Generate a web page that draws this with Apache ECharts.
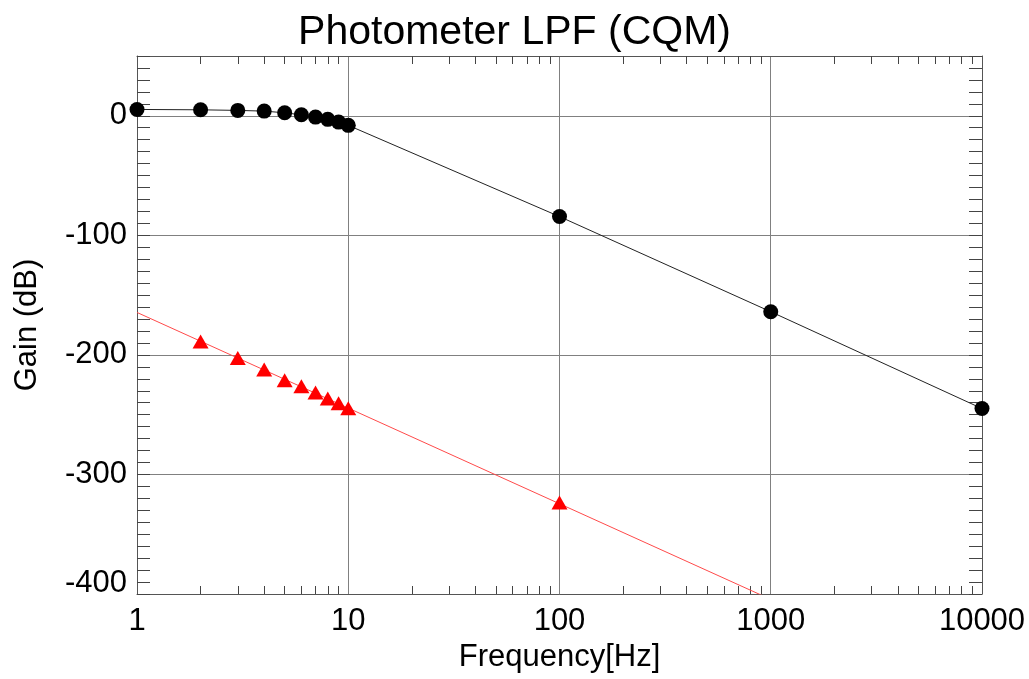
<!DOCTYPE html>
<html>
<head>
<meta charset="utf-8">
<title>Photometer LPF (CQM)</title>
<script src="https://cdn.jsdelivr.net/npm/echarts@6/dist/echarts.min.js"></script>
<style>
  html, body { margin: 0; padding: 0; background: #fff; }
  #chart { width: 1029px; height: 679px; }
</style>
</head>
<body>
<div id="chart"></div>
<script>
// measured gain (black dots)
const freqMeas = [1, 2, 3, 4, 5, 6, 7, 8, 9, 10, 100, 1000, 10000];
const gainMeas = [5.3, 5.0, 4.5, 3.9, 2.5, 0.8, -1.1, -3.0, -5.3, -8.0, -84.3, -163.9, -244.9];

// red triangles
const freqRed = [2, 3, 4, 5, 6, 7, 8, 9, 10, 100];
const gainRed = [-188.7, -202.6, -212.3, -221.3, -226.3, -231.5, -236.4, -240.5, -244.7, -323.4];

// red straight line (fit)
const freqFit = [1, 10, 100, 1000, 10000];
const gainFit = [-164.5, -244.5, -324.5, -404.5, -484.5];

// axis ticks
const xMinorTicks = [2, 3, 4, 5, 6, 7, 8, 9, 20, 30, 40, 50, 60, 70, 80, 90,
    200, 300, 400, 500, 600, 700, 800, 900, 2000, 3000, 4000, 5000, 6000, 7000, 8000, 9000];
const yMin = -400, yMax = 50;

const font = 'Liberation Sans, Arial, Helvetica, sans-serif';

function pairs(xs, ys) {
    return xs.map((x, i) => [x, ys[i]]);
}

window.onload = init;

function init() {
    let chart = echarts.init(document.getElementById('chart'));

    let minorX = {
        type: 'log', logBase: 10, min: 1, max: 10000,
        axisLine: { show: false, onZero: false },
        axisTick: { show: true, inside: true, length: 8, customValues: xMinorTicks,
            lineStyle: { color: '#444', width: 1 } },
        axisLabel: { show: false },
        splitLine: { show: false }
    };
    let minorY = {
        type: 'value', min: yMin, max: yMax, interval: 10,
        axisLine: { show: false, onZero: false },
        axisTick: { show: true, inside: true, length: 13, lineStyle: { color: '#444', width: 1 } },
        axisLabel: { show: false },
        splitLine: { show: false }
    };

    let options = {
        animation: false,
        backgroundColor: '#fff',
        title: {
            text: 'Photometer LPF (CQM)',
            left: 'center',
            top: 7,
            textStyle: { fontFamily: font, fontSize: 41, fontWeight: 'normal', color: '#000' }
        },
        grid: { left: 137, right: 47, top: 56, bottom: 85, containLabel: false, outerBoundsMode: 'none' },
        xAxis: [
            {
                type: 'log', logBase: 10, min: 1, max: 10000, position: 'bottom',
                name: 'Frequency[Hz]', nameLocation: 'middle', nameGap: 43,
                nameTextStyle: { fontFamily: font, fontSize: 31, color: '#000' },
                axisLine: { onZero: false, lineStyle: { color: '#555', width: 1 } },
                axisTick: { show: false },
                axisLabel: { fontFamily: font, fontSize: 31, color: '#000', margin: 12,
                    formatter: v => String(Math.round(v)) },
                splitLine: { show: true, lineStyle: { color: '#808080', width: 1 } }
            },
            Object.assign({}, minorX, { position: 'bottom' }),
            Object.assign({}, minorX, { position: 'top',
                axisLine: { show: true, onZero: false, lineStyle: { color: '#555', width: 1 } } })
        ],
        yAxis: [
            {
                type: 'value', min: yMin, max: yMax, interval: 100, position: 'left',
                name: 'Gain (dB)', nameLocation: 'middle', nameGap: 94,
                nameTextStyle: { fontFamily: font, fontSize: 31, color: '#000' },
                axisLine: { show: true, onZero: false, lineStyle: { color: '#555', width: 1 } },
                axisTick: { show: false },
                axisLabel: {
                    fontFamily: font, fontSize: 31, color: '#000', margin: 10,
                    showMaxLabel: false,
                    formatter: v => v === yMin ? '{low|' + v + '}' : (v > 0 ? '' : String(v)),
                    rich: { low: { fontFamily: font, fontSize: 31, color: '#000', padding: [0, 0, 22, 0] } }
                },
                splitLine: { show: true, lineStyle: { color: '#808080', width: 1 } }
            },
            Object.assign({}, minorY, { position: 'left' }),
            Object.assign({}, minorY, { position: 'right',
                axisLine: { show: true, onZero: false, lineStyle: { color: '#555', width: 1 } } })
        ],
        series: [
            {
                name: 'fit',
                type: 'line',
                data: pairs(freqFit, gainFit),
                showSymbol: false,
                symbol: 'none',
                lineStyle: { color: '#ff4a4a', width: 1 },
                clip: true,
                z: 2
            },
            {
                name: 'red',
                type: 'scatter',
                data: pairs(freqRed, gainRed),
                symbol: 'triangle',
                symbolSize: [16, 14],
                itemStyle: { color: '#ff0000', opacity: 1 },
                z: 3
            },
            {
                name: 'measured',
                type: 'line',
                data: pairs(freqMeas, gainMeas),
                symbol: 'circle',
                symbolSize: 15,
                showAllSymbol: true,
                itemStyle: { color: '#000' },
                lineStyle: { color: '#222', width: 1 },
                clip: false,
                z: 4
            }
        ]
    };

    chart.setOption(options);
}
</script>
</body>
</html>
